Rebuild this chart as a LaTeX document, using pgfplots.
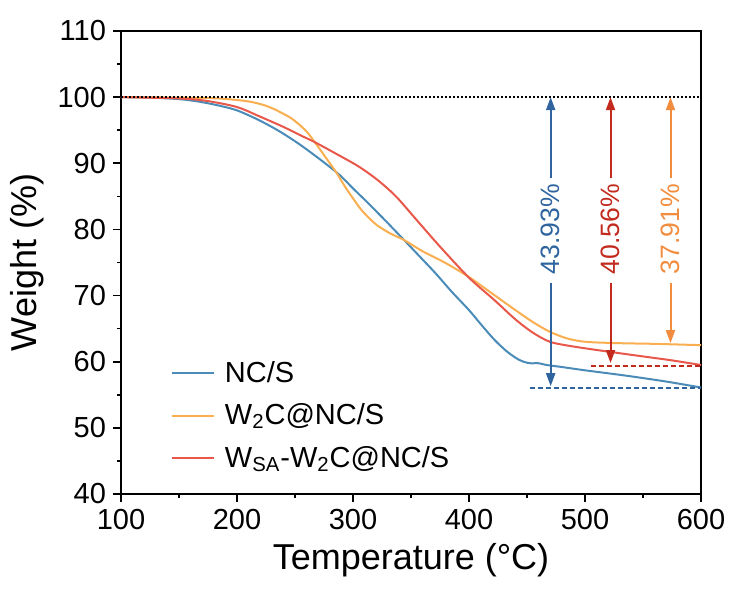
\documentclass[border=0pt]{standalone}
\usepackage{pgfplots}
\pgfplotsset{compat=1.18}
\usepackage{fontspec}
\setmainfont{Liberation Sans}
\usetikzlibrary{arrows.meta}

\definecolor{ncs}{HTML}{4A8BB8}
\definecolor{wtc}{HTML}{F9AE4F}
\definecolor{wsa}{HTML}{E8574A}
\definecolor{darrblue}{HTML}{2F649E}
\definecolor{darrred}{HTML}{C22A1E}
\definecolor{darrorg}{HTML}{F28C3E}

\begin{document}
\begin{tikzpicture}
\begin{axis}[
    scale only axis,
    width=290pt, height=231.5pt,
    xmin=100, xmax=600,
    ymin=40, ymax=110,
    xtick={100,200,...,600},
    ytick={40,50,...,110},
    minor x tick num=1,
    minor y tick num=1,
    tick pos=left,
    tick align=outside,
    major tick length=4pt,
    minor tick length=2pt,
    every tick/.style={black, line width=0.8pt},
    axis line style={line width=1pt},
    /pgf/number format/assume math mode=true,
    tick label style={font=\fontsize{14.5}{17}\selectfont},
    label style={font=\fontsize{18}{21}\selectfont},
    xlabel={Temperature (°C)},
    ylabel={Weight (\%)},
    clip=false,
    legend cell align=left,
    legend style={draw=none, fill=none, at={(0.075,0.305)}, anchor=north west,
        font=\fontsize{14.5}{17}\selectfont, row sep=5.2pt},
    legend image code/.code={\draw[#1] (0pt,0pt) -- (21pt,0pt); \path (24pt,0pt);},
    arr/.style={line width=1pt, -{Triangle[length=6.5pt,width=4.5pt]}, forget plot},
    lvl/.style={line width=1pt, dash pattern=on 2.5pt off 1.5pt, forget plot},
]
% bounding frame matching the reference margins
\path ([xshift=-60.5pt,yshift=-53.5pt]rel axis cs:0,0) rectangle ([xshift=16.5pt,yshift=15.5pt]rel axis cs:1,1);

\addplot[ncs, line width=1pt, smooth] coordinates {
(100,100) (125,99.92) (150,99.7) (168,99.3) (185,98.7) (200,98.0) (218,96.6)
(235,95.0) (252,93.1) (270,90.8) (288,88.3) (300,86.2) (310,84.5) (327,81.5)
(344,78.4) (357,76.0) (371,73.4) (385,70.6) (400,67.8) (411,65.5) (422,63.3)
(433,61.5) (443,60.3) (450,59.85) (455,59.75) (458,59.8) (462,59.7) (467,59.5)
(480,59.2) (500,58.7) (535,57.9) (570,57.0) (600,56.1)};
\addlegendentry{NC/S}

\addplot[wtc, line width=1pt, smooth] coordinates {
(100,100) (150,99.92) (184,99.8) (210,99.35) (225,98.7) (232,98.2) (245,97.0)
(252,96.1) (260,94.8) (267,93.2) (276,91.0) (286,88.5) (293,86.5) (300,84.7)
(307,83.0) (314,81.7) (321,80.6) (332,79.4) (344,78.4) (360,76.7) (380,74.9)
(400,72.8) (420,70.3) (440,67.8) (455,66.0) (470,64.5) (485,63.5) (501,63.0)
(530,62.8) (560,62.7) (600,62.5)};
\addlegendentry{W\textsubscript{2}C@NC/S}

\addplot[wsa, line width=1pt, smooth] coordinates {
(100,100) (150,99.8) (175,99.4) (200,98.5) (218,97.2) (240,95.5) (255,94.2)
(267,93.2) (290,91.0) (305,89.5) (321,87.5) (337,85.0) (354,81.6) (375,77.4)
(400,72.7) (422,69.3) (440,66.4) (455,64.4) (470,63.0) (490,62.3) (521,61.5)
(550,60.8) (575,60.2) (600,59.5)};
\addlegendentry{W\textsubscript{SA}-W\textsubscript{2}C@NC/S}

% reference levels
\addplot[black, line width=1pt, dash pattern=on 1pt off 1pt, forget plot] coordinates {(100,100) (600,100)};
\addplot[darrblue, lvl] coordinates {(452.6,56.0) (600,56.0)};
\addplot[darrred, lvl] coordinates {(505,59.4) (600,59.4)};

% arrows
\addplot[darrblue, arr] coordinates {(470.4,87.7) (470.4,100)};
\addplot[darrblue, arr] coordinates {(470.4,71.85) (470.4,56.3)};
\addplot[darrred, arr] coordinates {(522,87.7) (522,100)};
\addplot[darrred, arr] coordinates {(522,71.85) (522,59.8)};
\addplot[darrorg, arr] coordinates {(573.7,87.7) (573.7,100)};
\addplot[darrorg, arr] coordinates {(573.7,71.85) (573.7,62.8)};

\node[rotate=90, text=darrblue, font=\fontsize{13.3}{16}\selectfont, inner sep=0pt] at (axis cs:470.4,80) {43.93\%};
\node[rotate=90, text=darrred, font=\fontsize{13.3}{16}\selectfont, inner sep=0pt] at (axis cs:522,80) {40.56\%};
\node[rotate=90, text=darrorg, font=\fontsize{13.3}{16}\selectfont, inner sep=0pt] at (axis cs:573.7,80) {37.91\%};
\end{axis}
\end{tikzpicture}
\end{document}
